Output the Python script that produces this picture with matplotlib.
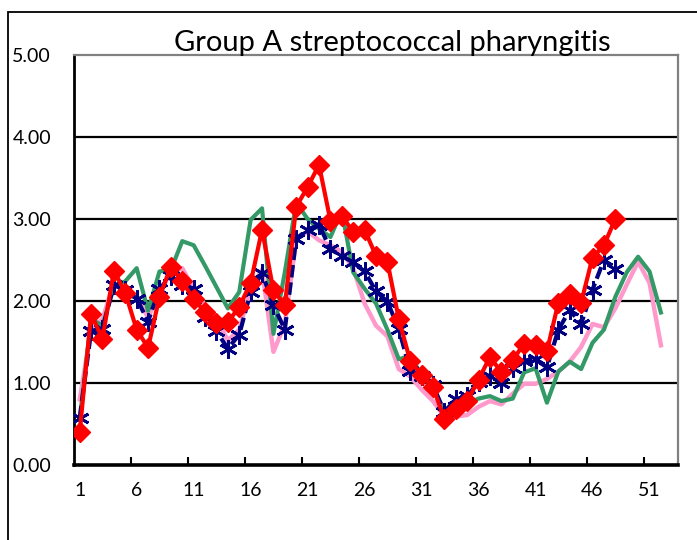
import numpy as np
import matplotlib
matplotlib.use("Agg")
import matplotlib.pyplot as plt
from matplotlib.patches import Rectangle

title = "Group A streptococcal pharyngitis"
weeks = list(range(1, 53))
xtick_labels = [1, 6, 11, 16, 21, 26, 31, 36, 41, 46, 51]
ytick_values = [0, 1, 2, 3, 4, 5]

pink = [0.80, 1.65, 1.78, 2.22, 2.12, 2.05, 1.80, 2.10, 2.35, 2.40,
        2.15, 1.95, 1.78, 1.52, 1.65, 2.15, 2.38, 1.38, 1.72, 2.75,
        2.85, 2.74, 2.68, 2.60, 2.40, 1.97, 1.70, 1.57, 1.17, 1.08,
        0.92, 0.78, 0.59, 0.59, 0.61, 0.71, 0.78, 0.74, 0.87, 0.99,
        0.99, 1.05, 1.14, 1.26, 1.44, 1.72, 1.68, 1.91, 2.20, 2.48,
        2.22, 1.46]

green = [0.55, 1.78, 1.70, 2.17, 2.24, 2.40, 1.88, 2.36, 2.38, 2.73,
         2.68, 2.43, 2.17, 1.91, 2.11, 2.99, 3.13, 1.60, 2.35, 3.20,
         3.00, 2.88, 2.78, 3.10, 2.35, 2.15, 1.97, 1.65, 1.29, 1.33,
         1.10, 0.93, 0.65, 0.61, 0.75, 0.81, 0.84, 0.78, 0.81, 1.13,
         1.18, 0.76, 1.14, 1.26, 1.17, 1.49, 1.65, 2.05, 2.35, 2.54,
         2.36, 1.86]

navy = [0.57, 1.63, 1.66, 2.20, 2.13, 2.03, 1.75, 2.15, 2.30, 2.20,
        2.15, 1.81, 1.63, 1.42, 1.59, 2.11, 2.34, 1.95, 1.65, 2.76,
        2.87, 2.93, 2.63, 2.55, 2.47, 2.36, 2.12, 1.99, 1.66, 1.15,
        1.08, 0.97, 0.65, 0.80, 0.84, 1.01, 1.09, 1.00, 1.18, 1.27,
        1.29, 1.19, 1.65, 1.89, 1.72, 2.14, 2.50, 2.39]

red = [0.40, 1.84, 1.54, 2.37, 2.10, 1.65, 1.43, 2.05, 2.42, 2.24,
       2.02, 1.87, 1.73, 1.74, 1.93, 2.22, 2.87, 2.13, 1.95, 3.15,
       3.39, 3.66, 2.98, 3.04, 2.84, 2.87, 2.55, 2.48, 1.78, 1.27,
       1.10, 0.95, 0.56, 0.68, 0.78, 1.04, 1.32, 1.13, 1.28, 1.48,
       1.46, 1.39, 1.98, 2.09, 1.98, 2.53, 2.68, 3.00]

plt.rcParams["font.family"] = ["Lato", "DejaVu Sans"]

W, H = 697, 540
fig = plt.figure(figsize=(W / 100, H / 100), dpi=100)
fig.patch.set_facecolor("white")

# outer chart-area border (only left/top visible)
fig.patches.append(Rectangle((8 / W, -0.1), 1.2, (H - 12) / H + 0.1,
                             transform=fig.transFigure, fill=False,
                             edgecolor="black", linewidth=1.3))

ax = fig.add_axes([74 / W, 75 / H, 604 / W, 410 / H])
ax.set_xlim(0.5, 53.5)
ax.set_ylim(0, 5)

for v in ytick_values[1:-1]:
    ax.axhline(v, color="black", linewidth=1.6, zorder=1)

ax.plot(weeks[:len(pink)], pink, color="#FF99CC", linewidth=3.2, zorder=2)
ax.plot(weeks[:len(green)], green, color="#339966", linewidth=3.0, zorder=3)
ax.plot(weeks[:len(navy)], navy, color="#000080", linewidth=3.0,
        linestyle=(0, (3, 1.2)), marker=(6, 2, 0), markersize=13,
        markeredgewidth=2.0, markeredgecolor="#000080", zorder=4)
ax.plot(weeks[:len(red)], red, color="#FF0000", linewidth=3.0,
        marker="D", markersize=10, markeredgecolor="#FF0000",
        markerfacecolor="#FF0000", zorder=5)

for s in ["top", "right"]:
    ax.spines[s].set_color("#808080")
    ax.spines[s].set_linewidth(1.6)
ax.spines["left"].set_color("black")
ax.spines["left"].set_linewidth(2.0)
ax.spines["bottom"].set_color("black")
ax.spines["bottom"].set_linewidth(2.6)

ax.set_yticks(ytick_values)
ax.set_yticklabels([f"{v:.2f}" for v in ytick_values])
ax.tick_params(axis="y", length=0, pad=16.5, labelsize=14)

ax.set_xticks(xtick_labels)
ax.set_xticklabels([str(v) for v in xtick_labels])
ax.set_xticks([5.5 + 5 * i for i in range(10)], minor=True)
ax.tick_params(axis="x", which="major", length=0, pad=12, labelsize=14)
ax.tick_params(axis="x", which="minor", direction="in", length=6,
               width=1.5, color="black")

fig.text(392 / W, 1 - 43 / H, title, ha="center", va="center",
         fontsize=21)

fig.savefig("out.png", dpi=100)
